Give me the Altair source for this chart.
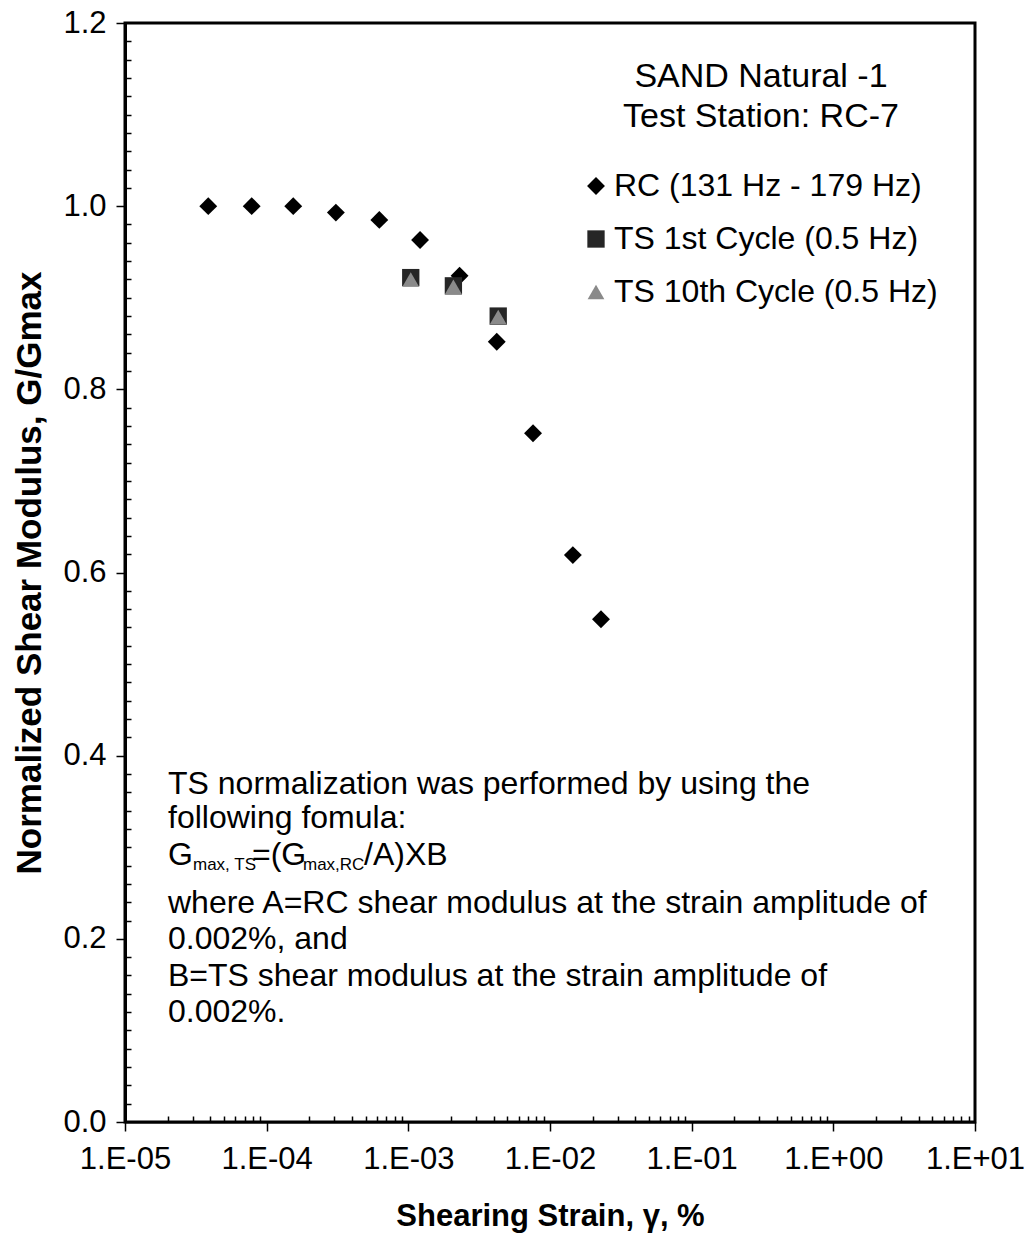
import altair as alt
import pandas as pd

# ---------------- data ----------------
series_names = ["RC (131 Hz - 179 Hz)", "TS 1st Cycle (0.5 Hz)", "TS 10th Cycle (0.5 Hz)"]

rc_strain = [3.87e-5, 7.84e-5, 1.54e-4, 3.08e-4, 6.24e-4, 1.21e-3, 2.3e-3, 4.21e-3, 7.59e-3, 1.45e-2, 2.29e-2]
rc_g = [1.0, 1.0, 1.0, 0.993, 0.985, 0.963, 0.924, 0.852, 0.752, 0.619, 0.549]

ts1_strain = [1.04e-3, 2.08e-3, 4.31e-3]
ts1_g = [0.922, 0.913, 0.880]

ts10_strain = [1.04e-3, 2.08e-3, 4.31e-3]
ts10_g = [0.920, 0.912, 0.879]

x_major = [1e-5, 1e-4, 1e-3, 1e-2, 1e-1, 1e0, 1e1]
x_ticks = sorted(set([m * d for d in x_major[:-1] for m in range(1, 10)] + [x_major[-1]]))
y_ticks = [round(i * 0.02, 2) for i in range(61)]

header_lines = ["SAND Natural -1", "Test Station: RC-7"]
note_lines = [
    "TS normalization was performed by using the",
    "following fomula:",
    "where A=RC shear modulus at the strain amplitude of",
    "0.002%, and",
    "B=TS shear modulus at the strain amplitude of",
    "0.002%.",
]
formula_parts = ["G", "max, TS", "=(G", "max,RC", "/A)XB"]

FONT = "Liberation Sans"

# ---------------- tables ----------------
rows = []
for s, g in zip(rc_strain, rc_g):
    rows.append({"strain": s, "g": g, "series": series_names[0]})
for s, g in zip(ts1_strain, ts1_g):
    rows.append({"strain": s, "g": g, "series": series_names[1]})
for s, g in zip(ts10_strain, ts10_g):
    rows.append({"strain": s, "g": g, "series": series_names[2]})
df = pd.DataFrame(rows)

is_major_x = "abs(log(datum.value)/LN10 - round(log(datum.value)/LN10)) < 0.001"
ex = "round(log(datum.value)/LN10)"
x_label = (f"{is_major_x} ? ('1.E' + ({ex} < 0 ? '-' : '+') + (abs({ex}) < 10 ? '0' : '') + abs({ex})) : ''")
is_major_y = "abs(datum.value*5 - round(datum.value*5)) < 0.001"

legend = alt.Legend(
    title=None, orient="none", legendX=455, legendY=147,
    labelFont=FONT, labelFontSize=32, labelColor="black", labelLimit=0,
    rowPadding=21, labelOffset=2, symbolStrokeWidth=0,
)

points = alt.Chart(df).mark_point(filled=True, opacity=1).encode(
    x=alt.X("strain:Q",
            scale=alt.Scale(type="log", domain=[1e-5, 10]),
            axis=alt.Axis(
                values=x_ticks, labelExpr=x_label,
                tickSize={"condition": {"test": is_major_x, "value": 9}, "value": -6},
                tickColor="black", tickWidth=1.5, domainColor="black", domainWidth=2,
                labelFont=FONT, labelFontSize=31, labelColor="black", labelPadding=13,
                labelOverlap=False, labelFlush=False, grid=False,
                title="Shearing Strain, γ, %", titleFont=FONT, titleFontSize=31,
                titleFontWeight="bold", titleColor="black", titlePadding=27)),
    y=alt.Y("g:Q",
            scale=alt.Scale(domain=[0, 1.2]),
            axis=alt.Axis(
                values=y_ticks,
                labelExpr=f"{is_major_y} ? format(datum.value, '.1f') : ''",
                tickSize={"condition": {"test": is_major_y, "value": 9}, "value": -6},
                tickColor="black", tickWidth=1.5, domainColor="black", domainWidth=3,
                labelFont=FONT, labelFontSize=31, labelColor="black", labelPadding=10,
                labelOverlap=False, labelFlush=False, grid=False,
                title="Normalized Shear Modulus, G/Gmax", titleFont=FONT, titleFontSize=35,
                titleFontWeight="bold", titleColor="black", titlePadding=15)),
    shape=alt.Shape("series:N", scale=alt.Scale(domain=series_names, range=["diamond", "square", "triangle-up"]), legend=legend),
    color=alt.Color("series:N", scale=alt.Scale(domain=series_names, range=["#000000", "#262626", "#8a8a8a"]), legend=legend),
    size=alt.Size("series:N", scale=alt.Scale(domain=series_names, range=[320, 280, 60]), legend=legend),
)

# text annotations (pixel positions inside plot area)
hdr = pd.DataFrame({"text": header_lines, "px": [636, 636], "py": [54, 94]})
header = alt.Chart(hdr).mark_text(align="center", baseline="middle", font=FONT, fontSize=34, color="black").encode(
    x=alt.X("px:Q", scale=None), y=alt.Y("py:Q", scale=None), text="text:N")

notes = pd.DataFrame({"text": note_lines,
                      "px": [43] * 6,
                      "py": [761, 795, 880, 916, 953, 989]})
note = alt.Chart(notes).mark_text(align="left", baseline="middle", font=FONT, fontSize=32, color="black").encode(
    x=alt.X("px:Q", scale=None), y=alt.Y("py:Q", scale=None), text="text:N")

fp = pd.DataFrame({"text": formula_parts,
                   "px": [43, 68, 127, 178, 239],
                   "py": [832, 842, 832, 842, 832],
                   "fs": [32, 17, 32, 17, 32]})
formula = alt.Chart(fp).mark_text(align="left", baseline="middle", font=FONT, color="black").encode(
    x=alt.X("px:Q", scale=None), y=alt.Y("py:Q", scale=None), text="text:N",
    size=alt.Size("fs:Q", scale=None, legend=None))

chart = alt.layer(points, header, note, formula).properties(
    width=850, height=1099,
    autosize=alt.AutoSizeParams(type="none"),
    padding={"left": 125, "top": 23, "right": 51, "bottom": 117},
    background="white",
).configure_view(stroke="black", strokeWidth=3)

chart.save("out.html", embed_options={"renderer": "svg", "actions": False})
